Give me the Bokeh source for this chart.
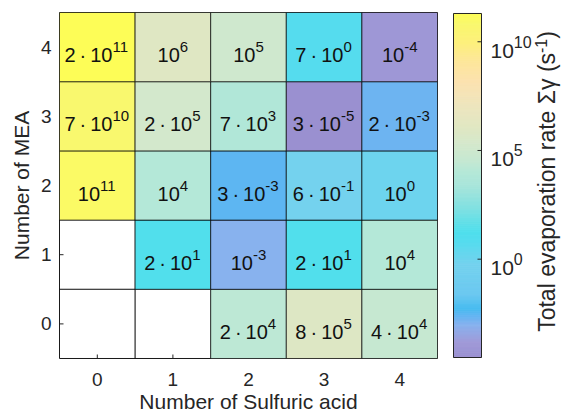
import numpy as np
from bokeh.plotting import figure
from bokeh.models import Range1d, FixedTicker, LogColorMapper, ColumnDataSource
from bokeh.layouts import row
from bokeh.core.properties import value
from bokeh.embed import file_html
from bokeh.resources import INLINE

nan = float("nan")

# ---------------- data ----------------
n_sulfuric = [0, 1, 2, 3, 4]          # x categories
n_mea = [0, 1, 2, 3, 4]               # y categories
# total evaporation rate (s^-1); one list per number of MEA, indexed by number of sulfuric acid
rate_mea0 = [nan, nan, 2e4, 8e5, 4e4]
rate_mea1 = [nan, 2e1, 1e-3, 2e1, 1e4]
rate_mea2 = [1e11, 1e4, 3e-3, 6e-1, 1e0]
rate_mea3 = [7e10, 2e5, 7e3, 3e-5, 2e-3]
rate_mea4 = [2e11, 1e6, 1e5, 7e0, 1e-4]
rates = [rate_mea0, rate_mea1, rate_mea2, rate_mea3, rate_mea4]
cbar_ticks = [1e0, 1e5, 1e10]

x_label = "Number of Sulfuric acid"
y_label = "Number of MEA"
cbar_title = ["Total evaporation rate \u03a3\u03b3 (s", "-1", ")"]

# colormap anchors: log10(rate) -> colour (faded parula-like)
cmap_pos = [-4.52, -3.8, -3.0, -2.6, -2.25, -1.6, -0.2, 0.85, 1.3, 2.3, 3.4, 4.0,
            4.5, 5.3, 6.0, 6.8, 8.2, 9.1, 10.0, 10.85, 11.31]
cmap_col = ["#9a90d0", "#a09ad8", "#88b2ee", "#64b4f2", "#48bcf0", "#6cc8f0", "#74d2ee",
            "#54dcee", "#50dfec", "#7ee0e2", "#a8e5da", "#b4e8d8", "#c4e8d2", "#d4e8cc",
            "#dfe7c3", "#eae6c0", "#fce2b0", "#fde69a", "#fdf07c", "#f9f86e", "#fdfd55"]

FONT = "Liberation Sans"
AXC = "#262626"

# ---------------- colour mapping ----------------
flat = np.array(rates, dtype=float)
vmin = np.nanmin(flat)
vmax = np.nanmax(flat)
lo, hi = np.log10(vmin), np.log10(vmax)

def hex2rgb(h):
    return [int(h[i:i + 2], 16) for i in (1, 3, 5)]

rgb = np.array([hex2rgb(c) for c in cmap_col], dtype=float)
N = 256
palette = []
for i in range(N):
    t = lo + (i + 0.5) / N * (hi - lo)
    c = [int(round(np.interp(t, cmap_pos, rgb[:, k]))) for k in range(3)]
    palette.append("#%02x%02x%02x" % tuple(c))

mapper = LogColorMapper(palette=palette, low=vmin, high=vmax, nan_color="white")

# ---------------- label helpers ----------------
CW = {str(d): 0.556 for d in range(10)}
CW.update({"\u00b7": 0.278, "\u2009": 0.2, "-": 0.333, " ": 0.278, "(": 0.333, ")": 0.333,
           "T": 0.611, "o": 0.556, "t": 0.278, "a": 0.556, "l": 0.222, "e": 0.556,
           "v": 0.5, "p": 0.556, "r": 0.333, "i": 0.222, "n": 0.556, "s": 0.5,
           "\u03a3": 0.6, "\u03b3": 0.5})

def tw(s, size):
    return sum(CW.get(ch, 0.556) for ch in s) * size

def split_label(v):
    e = int(np.floor(np.log10(v) + 1e-9))
    m = int(round(v / 10.0 ** e))
    if m == 10:
        m, e = 1, e + 1
    base = "10" if m == 1 else "%d\u2009\u00b7\u200910" % m
    return base, str(e)

FB, FE = 20, 15          # base / exponent font sizes (px)
RAISE = 8                # superscript raise (px)
BASE_DY = 8              # baseline below cell centre (px)

cx, cy, cv = [], [], []          # filled cells
ex, ey = [], []                  # empty cells
lx, ly, lbase, lexp, loff = [], [], [], [], []
for j, rr in enumerate(rates):
    for i, v in enumerate(rr):
        if np.isnan(v):
            ex.append(n_sulfuric[i]); ey.append(n_mea[j])
            continue
        cx.append(n_sulfuric[i]); cy.append(n_mea[j]); cv.append(v)
        b, e = split_label(v)
        lx.append(n_sulfuric[i]); ly.append(n_mea[j])
        lbase.append(b); lexp.append(e)
        loff.append((tw(b, FB) - tw(e, FE)) / 2.0)

cells = ColumnDataSource(dict(x=cx, y=cy, v=cv))
empty = ColumnDataSource(dict(x=ex, y=ey))
labels = ColumnDataSource(dict(x=lx, y=ly, base=lbase, exp=lexp, off=loff))

# ---------------- main heatmap ----------------
FW, FH = 378, 346                     # frame size in px
p = figure(width=438, height=418, x_range=Range1d(-0.5, 4.5), y_range=Range1d(-0.5, 4.5),
           output_backend="svg", toolbar_location=None,
           min_border_left=59, min_border_right=1, min_border_top=12, min_border_bottom=60)
p.grid.visible = False
p.outline_line_color = AXC
p.outline_line_width = 1
p.background_fill_color = "white"
p.border_fill_color = "white"

# empty cells: outline only
p.rect(x="x", y="y", width=1, height=1, source=empty, fill_color=None,
       line_color="black", line_alpha=0.6, line_width=1)

# inward tick marks (drawn before the coloured cells so that these cover them)
tick_len_x = 4.0 / FH * 5
tick_len_y = 4.0 / FW * 5
p.segment(x0=n_sulfuric, x1=n_sulfuric, y0=-0.5, y1=-0.5 + tick_len_x,
          line_color=AXC, line_width=1)
p.segment(x0=-0.5, x1=-0.5 + tick_len_y, y0=n_mea, y1=n_mea,
          line_color=AXC, line_width=1)

p.rect(x="x", y="y", width=1, height=1, source=cells,
       fill_color={"field": "v", "transform": mapper},
       line_color="black", line_alpha=0.7, line_width=1)

p.text(x="x", y="y", text="base", source=labels, x_offset="off", y_offset=BASE_DY,
       text_align="right", text_baseline="alphabetic", text_color="#111111",
       text_font=value(FONT), text_font_size="%dpx" % FB)
p.text(x="x", y="y", text="exp", source=labels, x_offset="off", y_offset=BASE_DY - RAISE,
       text_align="left", text_baseline="alphabetic", text_color="#111111",
       text_font=value(FONT), text_font_size="%dpx" % FE)

for ax, ticks in ((p.xaxis[0], n_sulfuric), (p.yaxis[0], n_mea)):
    ax.ticker = FixedTicker(ticks=ticks)
    ax.major_tick_in = 0
    ax.major_tick_out = 0
    ax.major_tick_line_color = None
    ax.minor_tick_line_color = None
    ax.axis_line_color = None
    ax.major_label_text_font = FONT
    ax.major_label_text_font_size = "19px"
    ax.major_label_text_color = AXC
    ax.axis_label_text_font = FONT
    ax.axis_label_text_font_size = "21px"
    ax.axis_label_text_font_style = "normal"
    ax.axis_label_text_color = AXC

p.xaxis.axis_label = x_label
p.yaxis.axis_label = y_label
p.xaxis.major_label_standoff = 14
p.xaxis.axis_label_standoff = 1
p.yaxis.major_label_standoff = 8
p.yaxis.axis_label_standoff = 5

# ---------------- colour bar ----------------
CBW = 125
pad = (hi - lo) / FH
cb = figure(width=CBW, height=418, x_range=Range1d(0, CBW),
            y_range=Range1d(10 ** (lo - pad), 10 ** (hi + pad)), y_axis_type="log",
            x_axis_location=None, y_axis_location=None,
            output_backend="svg", toolbar_location=None,
            min_border_left=0, min_border_right=0, min_border_top=11, min_border_bottom=59)
cb.grid.visible = False
cb.outline_line_color = None
cb.background_fill_color = "white"
cb.border_fill_color = "white"

CB_L, CB_R = 15, 43
edges = 10 ** np.linspace(lo, hi, N + 1)
cb.quad(left=CB_L, right=CB_R, bottom=edges[:-1], top=edges[1:],
        fill_color=palette, line_color=palette, line_width=1)
cb.quad(left=CB_L, right=CB_R, bottom=vmin, top=vmax, fill_color=None,
        line_color=AXC, line_width=1)
cb.segment(x0=CB_R - 4, x1=CB_R, y0=cbar_ticks, y1=cbar_ticks, line_color=AXC, line_width=1)

CFB, CFE = 21, 16
tick_base, tick_exp = [], []
for t in cbar_ticks:
    b, e = split_label(t)
    tick_base.append(b); tick_exp.append(e)
TL_X = 52
tsrc = ColumnDataSource(dict(y=cbar_ticks, base=tick_base, exp=tick_exp,
                             x=[TL_X + tw(b, CFB) for b in tick_base]))
cb.text(x="x", y="y", text="base", source=tsrc, y_offset=9, text_align="right",
        text_baseline="alphabetic", text_color=AXC, text_font=value(FONT),
        text_font_size="%dpx" % CFB)
cb.text(x="x", y="y", text="exp", source=tsrc, y_offset=0, text_align="left",
        text_baseline="alphabetic", text_color=AXC, text_font=value(FONT),
        text_font_size="%dpx" % CFE)

# rotated title, composed of pieces
TF, TFE = 23, 16
wA = tw(cbar_title[0], TF)
wB = tw(cbar_title[1], TFE)
wC = tw(cbar_title[2], TF)
wt = wA + wB + wC
mid = 10 ** ((lo + hi) / 2)
TX = 108
shift = -3
offA = wt / 2 + shift - wA
ang = np.pi / 2
cb.text(x=[TX], y=[mid], text=[cbar_title[0]], angle=ang, y_offset=offA,
        text_align="right", text_baseline="middle", text_color=AXC,
        text_font=value(FONT), text_font_size="%dpx" % TF)
cb.text(x=[TX], y=[mid], text=[cbar_title[1]], angle=ang, y_offset=offA, x_offset=-6,
        text_align="left", text_baseline="middle", text_color=AXC,
        text_font=value(FONT), text_font_size="%dpx" % TFE)
cb.text(x=[TX], y=[mid], text=[cbar_title[2]], angle=ang, y_offset=offA - wB,
        text_align="left", text_baseline="middle", text_color=AXC,
        text_font=value(FONT), text_font_size="%dpx" % TF)

layout = row(p, cb)
open("out.html", "w").write(file_html(layout, INLINE, title="Evaporation rates"))
